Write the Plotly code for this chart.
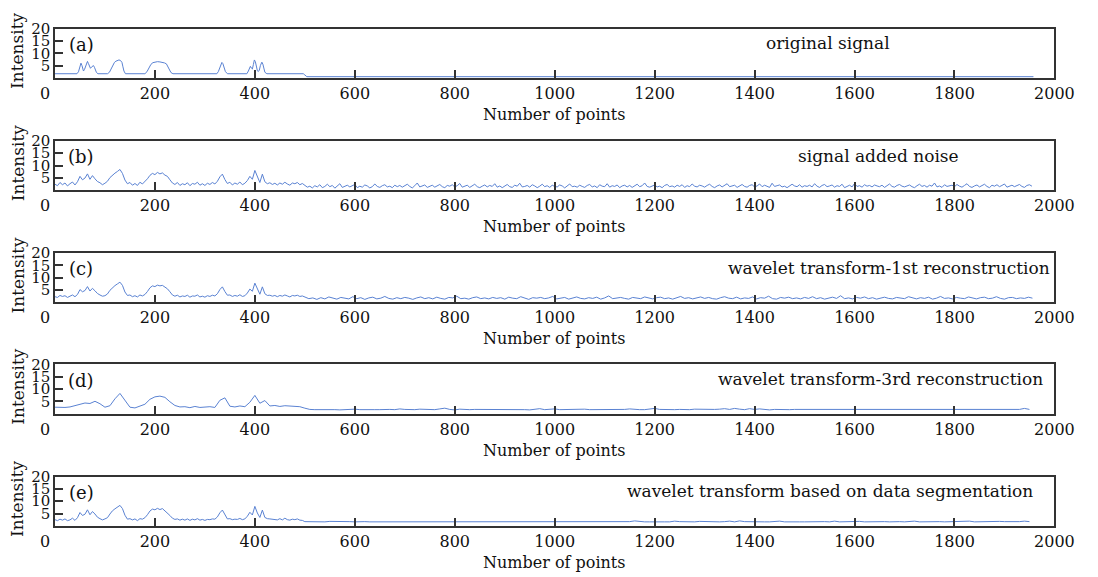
import plotly.graph_objects as go

# ---------------- data ----------------
panel_tags = ["(a)", "(b)", "(c)", "(d)", "(e)"]
panel_titles = ["original signal", "signal added noise",
                "wavelet transform-1st reconstruction",
                "wavelet transform-3rd reconstruction",
                "wavelet transform based on data segmentation"]
x_tick_vals = [0, 200, 400, 600, 800, 1000, 1200, 1400, 1600, 1800, 2000]
x_tick_text = ["0", "200", "400", "600", "800", "1000", "1200", "1400", "1600", "1800", "2000"]
y_tick_vals = [5, 10, 15, 20]
y_tick_text = ["5", "10", "15", "20"]

# (a) original signal: vertices of the clean signal
orig_x = [0, 44, 47, 49, 51, 52, 54, 56, 57, 59, 61, 63, 65, 67, 69, 71, 73, 75, 77, 79, 81, 83, 86,
          105, 109, 113, 116, 119, 122, 125, 128, 131, 134, 136, 138, 141,
          180, 184, 188, 192, 196, 200, 205, 210, 215, 219, 223, 226, 229, 232, 236,
          324, 327, 330, 332, 334, 336, 338, 341, 345,
          384, 387, 389, 391, 393, 395, 397, 399, 401, 403, 405, 407, 409, 411, 413, 414, 416, 418, 420, 424,
          497, 500, 504, 1958]
orig_y = [1.7, 1.7, 2.5, 4.2, 5.7, 6.0, 5.0, 3.2, 2.8, 3.4, 4.8, 6.3, 6.7, 5.8, 4.3, 3.9, 4.4, 4.9, 5.0, 4.3, 3.0, 2.2, 1.7,
          1.7, 2.3, 3.8, 5.3, 6.3, 6.8, 7.0, 7.3, 7.1, 6.3, 4.5, 2.8, 1.7,
          1.7, 2.5, 4.0, 5.5, 6.2, 6.5, 6.6, 6.5, 6.4, 6.1, 5.7, 4.6, 3.2, 2.2, 1.7,
          1.7, 2.6, 4.6, 5.9, 6.3, 5.8, 4.5, 2.6, 1.7,
          1.7, 2.8, 4.2, 4.7, 4.0, 3.6, 5.4, 7.3, 6.6, 4.4, 2.9, 2.6, 3.2, 5.0, 6.3, 6.4, 5.6, 3.6, 2.3, 1.7,
          1.7, 1.2, 0.5, 0.5]

# (b) signal with added noise, sampled every 5 points
noisy_head = [2.4, 1.8, 3.1, 2.2, 2.9, 1.7, 2.6, 3.3, 2.1, 3.4,
              5.6, 4.2, 4.9, 6.6, 4.4, 5.9, 4.6, 3.5, 3.0, 2.2,
              2.8, 3.6, 5.1, 6.2, 6.9, 7.6, 8.4, 6.8, 4.1, 2.6,
              3.1, 2.0, 2.7, 1.9, 3.2, 2.5, 3.4, 4.6, 6.0, 6.8,
              6.3, 7.2, 6.6, 7.0, 6.1, 5.6, 4.2, 2.9, 2.3, 3.1,
              1.9, 2.6, 2.2, 3.0, 1.8, 2.7, 2.4, 3.2, 2.0, 2.6,
              1.9, 2.8, 2.3, 3.1, 2.5, 3.6, 5.4, 6.5, 4.3, 2.7,
              3.2, 2.1, 2.9, 2.4, 3.3, 2.2, 2.8, 3.9, 5.6, 4.4,
              8.0, 5.2, 3.1, 6.5, 3.4, 2.6, 3.0, 2.3, 2.8, 2.1,
              2.9, 2.4, 3.2, 2.5, 2.0, 2.9, 2.6, 3.1, 2.2, 2.7]
noisy_tail = [2.0, 1.2, 1.6, 0.9, 1.8, 1.3, 2.2, 1.0, 1.5, 2.4,
              1.4, 1.9, 0.8, 1.7, 2.6, 1.1, 1.5, 2.0, 1.3, 1.8,
              2.3, 1.0, 1.6, 1.2, 2.1, 1.7, 0.9, 1.4, 2.5, 1.5,
              1.1, 1.8, 2.2, 1.3, 1.6, 1.0, 2.0, 1.4, 1.9, 1.2,
              1.7, 2.4, 1.5, 0.9, 1.8, 2.9, 1.3, 1.6, 2.1, 1.1,
              1.5, 2.0, 1.2, 1.7, 2.3, 1.4, 1.0, 1.9, 1.6, 2.2,
              1.3, 1.8, 2.7, 1.2, 1.5, 2.0, 1.1, 1.7, 2.4, 1.4,
              1.0, 1.6, 2.1, 1.3, 1.9, 1.5, 2.6, 1.2, 1.7, 1.0,
              1.8, 2.3, 1.4, 1.1, 2.0, 1.6, 2.8, 1.3, 1.5, 1.9,
              1.2, 2.2, 1.7, 1.0, 1.6, 2.4, 1.4, 1.8, 1.1, 2.0,
              1.5, 1.3, 2.1, 1.7, 0.9, 1.8, 2.5, 1.4, 1.6, 1.2,
              2.0, 1.5, 1.1, 1.9, 2.3, 1.3, 1.7, 1.0, 2.2, 1.6,
              1.4, 2.6, 1.2, 1.8, 1.5, 2.1, 1.0, 1.7, 2.0, 1.3,
              1.9, 1.1, 1.6, 2.4, 1.4, 1.8, 2.9, 1.5, 1.2, 1.7,
              2.1, 1.3, 1.6, 1.0, 1.9, 2.3, 1.4, 1.7, 1.2, 2.0,
              1.5, 2.2, 1.1, 1.8, 1.4, 2.5, 1.6, 1.3, 2.0, 1.7,
              1.2, 1.9, 2.4, 1.5, 1.0, 1.7, 2.1, 1.3, 1.8, 2.6,
              1.4, 1.6, 2.0, 1.1, 1.8, 2.3, 1.5, 1.2, 1.9, 2.2,
              1.3, 1.7, 2.5, 1.4, 2.0, 1.6, 1.1, 2.8, 1.5, 1.8,
              2.1, 1.3, 1.6, 1.0, 1.9, 2.4, 1.7, 1.4, 2.2, 1.2,
              1.8, 1.5, 2.0, 1.3, 2.6, 1.6, 1.1, 1.9, 2.3, 1.4,
              1.7, 2.1, 1.2, 1.8, 1.5, 2.4, 1.0, 1.6, 2.0, 1.3,
              2.7, 1.5, 1.8, 1.2, 2.2, 1.6, 1.9, 1.3, 2.1, 1.7,
              1.4, 2.0, 1.1, 1.8, 2.5, 1.5, 1.2, 1.9, 2.3, 1.6,
              1.3, 1.7, 2.1, 1.4, 1.0, 1.8, 2.4, 1.5, 1.9, 1.2,
              2.0, 1.6, 2.9, 1.3, 1.7, 1.1, 2.2, 1.5, 1.8, 2.0,
              1.4, 2.3, 1.6, 1.2, 1.9, 2.6, 1.5, 1.1, 1.7, 2.1,
              1.3, 1.8, 2.4, 1.5, 1.0, 2.0, 1.6, 2.2, 1.4, 1.9,
              2.5, 1.2, 1.7, 2.0, 1.4, 1.8, 2.3, 1.5, 1.1, 1.9,
              2.2, 1.6]

# (c) 1st reconstruction: head every 5 points, tail every 8 points
rec1_head = [2.3, 2.0, 2.8, 2.4, 2.7, 2.0, 2.5, 3.0, 2.3, 3.2,
             5.2, 4.3, 4.8, 6.4, 4.6, 5.7, 4.7, 3.6, 3.0, 2.5,
             2.7, 3.4, 4.9, 6.0, 6.8, 7.5, 8.2, 6.9, 4.2, 2.8,
             3.0, 2.3, 2.7, 2.2, 3.0, 2.6, 3.2, 4.4, 5.9, 6.7,
             6.4, 7.0, 6.7, 6.9, 6.2, 5.5, 4.3, 3.0, 2.5, 2.9,
             2.2, 2.6, 2.4, 2.9, 2.1, 2.6, 2.5, 3.0, 2.2, 2.5,
             2.1, 2.7, 2.4, 2.9, 2.6, 3.5, 5.2, 6.3, 4.4, 2.9,
             3.0, 2.4, 2.8, 2.5, 3.1, 2.4, 2.7, 3.8, 5.4, 4.5,
             7.8, 5.3, 3.3, 6.3, 3.5, 2.8, 2.9, 2.5, 2.8, 2.3,
             2.8, 2.5, 3.0, 2.6, 2.2, 2.8, 2.6, 2.9, 2.4, 2.6]
rec1_tail = [2.1, 1.5, 1.8, 1.2, 1.9, 1.4, 2.2, 1.6, 1.3, 2.0,
             1.7, 1.4, 2.3, 1.5, 1.9, 1.2, 1.8, 2.1, 1.4, 1.7,
             2.4, 1.6, 1.3, 1.9, 1.5, 2.0, 1.7, 1.2, 1.8, 2.2,
             1.5, 1.9, 1.4, 2.1, 1.6, 1.3, 2.0, 1.8, 2.5, 1.5,
             1.7, 1.3, 1.9, 2.2, 1.5, 1.8, 1.4, 2.0, 1.6, 1.9,
             1.3, 2.1, 1.7, 1.5, 2.3, 1.6, 1.2, 1.9, 1.7, 2.0,
             1.5, 1.8, 2.4, 1.4, 1.7, 2.0, 1.3, 1.8, 2.2, 1.6,
             1.4, 1.9, 1.6, 2.1, 1.3, 1.8, 2.6, 1.5, 1.7, 2.0,
             1.6, 1.3, 2.0, 1.8, 1.5, 2.2, 1.7, 1.4, 1.9, 2.1,
             1.5, 1.8, 1.3, 2.0, 2.4, 1.6, 1.9, 1.4, 1.7, 2.2,
             1.6, 2.0, 1.5, 1.3, 1.9, 2.3, 1.7, 1.5, 2.1, 1.4,
             1.8, 1.6, 2.2, 1.4, 1.9, 1.7, 2.5, 1.5, 1.3, 2.0,
             1.7, 2.1, 1.5, 1.8, 1.4, 2.0, 1.6, 2.3, 1.5, 1.9,
             1.3, 1.8, 2.1, 1.6, 2.7, 1.5, 1.8, 1.4, 2.0, 1.7,
             2.2, 1.5, 1.9, 1.3, 1.8, 2.1, 1.6, 1.4, 2.0, 1.7,
             1.5, 2.3, 1.8, 1.4, 1.9, 1.6, 2.1, 1.3, 1.7, 2.4,
             1.6, 1.8, 1.4, 2.0, 1.7, 1.5, 2.2, 1.8, 1.4, 1.9,
             2.1, 1.5, 1.7, 2.3, 1.6, 1.3, 1.9, 2.0, 1.5, 1.8,
             1.6, 2.1, 1.7]

# (d) 3rd reconstruction: every 10 points
rec3_head = [2.6, 2.4, 2.5, 2.7, 3.2, 3.9, 4.3, 4.1, 5.0, 4.0,
             2.6, 3.2, 6.0, 8.2, 5.5, 2.6, 2.3, 3.0, 3.8, 5.8,
             6.8, 7.1, 6.6, 4.8, 3.3, 2.7, 2.8, 2.4, 2.9, 2.5,
             2.6, 2.8, 2.5, 5.4, 6.4, 3.0, 2.7, 3.1, 2.8, 4.6,
             7.4, 4.2, 5.3, 3.1, 3.3, 2.9, 3.2, 3.0, 3.1, 2.8]
rec3_tail = [2.2, 1.7, 1.6, 1.6, 1.7, 1.9, 1.6, 1.5, 1.7, 1.6,
             1.8, 1.6, 1.5, 1.7, 1.6, 1.6, 1.8, 1.7, 1.6, 1.9,
             1.7, 1.6, 1.6, 1.8, 1.7, 1.6, 1.6, 1.9, 2.2, 1.7,
             1.5, 1.8, 1.6, 1.6, 1.7, 1.7, 1.6, 1.8, 1.9, 1.6,
             1.6, 1.7, 1.6, 1.8, 1.6, 1.5, 1.7, 2.0, 1.6, 1.7,
             1.9, 1.6, 1.7, 1.6, 1.6, 1.7, 1.8, 1.6, 1.6, 1.7,
             1.6, 1.5, 1.6, 1.6, 1.7, 1.9, 1.7, 1.6, 1.6, 1.7,
             2.1, 1.7, 1.6, 1.5, 1.6, 1.7, 1.6, 1.6, 1.8, 1.7,
             1.6, 1.6, 1.7, 1.8, 2.0, 1.7, 2.1, 1.8, 1.6, 2.0,
             1.7, 1.9, 1.6, 1.5, 1.7, 1.6, 1.8, 1.6, 1.7, 1.7,
             1.6, 1.8, 1.6, 1.7, 1.6, 1.8, 1.7, 1.6, 1.7, 1.6,
             1.8, 1.7, 1.6, 1.6, 1.7, 1.6, 1.8, 1.7, 1.6, 1.7,
             1.6, 1.7, 1.6, 1.8, 1.6, 1.6, 1.9, 1.7, 1.6, 1.7,
             1.8, 1.6, 1.7, 1.6, 1.8, 1.9, 1.7, 1.6, 1.7, 1.8,
             1.7, 1.6, 1.9, 1.7, 2.1, 1.7]

# (e) segmentation-based: head every 5 points, tail every 10 points
seg_head = [2.5, 2.1, 2.7, 2.3, 2.8, 2.1, 2.4, 3.1, 2.2, 3.3,
            5.4, 4.2, 4.7, 6.5, 4.5, 5.8, 4.8, 3.5, 2.9, 2.4,
            2.8, 3.3, 4.8, 6.1, 6.9, 7.6, 8.3, 7.0, 4.3, 2.7,
            2.9, 2.4, 2.8, 2.1, 2.9, 2.7, 3.3, 4.5, 6.0, 6.8,
            6.5, 7.1, 6.6, 7.0, 6.1, 5.4, 4.2, 3.1, 2.6, 2.8,
            2.3, 2.7, 2.3, 2.8, 2.2, 2.7, 2.4, 2.9, 2.3, 2.6,
            2.2, 2.6, 2.5, 2.8, 2.7, 3.6, 5.3, 6.4, 4.3, 2.8,
            2.9, 2.5, 2.7, 2.6, 3.0, 2.5, 2.8, 3.9, 5.5, 4.4,
            7.9, 5.2, 3.4, 6.4, 3.4, 2.9, 2.8, 2.6, 2.7, 2.4,
            2.9, 2.4, 3.1, 2.5, 2.3, 2.7, 2.5, 2.8, 2.3, 2.2]
seg_tail = [1.7, 1.6, 1.7, 1.6, 1.6, 1.8, 1.7, 1.6, 1.6, 1.7,
            1.6, 1.8, 1.7, 1.6, 1.6, 1.9, 1.7, 1.6, 1.7, 1.6,
            1.7, 1.6, 1.8, 1.7, 1.6, 1.6, 1.7, 1.8, 1.6, 1.9,
            1.7, 1.6, 1.6, 1.8, 1.7, 1.6, 1.7, 1.6, 1.8, 1.7,
            1.6, 1.9, 1.7, 1.6, 1.6, 1.7, 1.8, 1.6, 1.7, 1.6,
            1.8, 1.6, 1.7, 1.9, 1.6, 1.6, 1.7, 1.6, 1.8, 1.7,
            1.6, 1.7, 1.6, 1.8, 1.6, 1.7, 2.0, 1.7, 1.6, 1.6,
            1.7, 1.8, 1.6, 1.6, 1.9, 1.7, 1.6, 1.7, 1.6, 1.8,
            1.7, 1.6, 1.8, 1.6, 1.7, 1.9, 1.6, 2.0, 1.7, 1.6,
            1.8, 1.7, 1.6, 1.6, 1.7, 1.9, 1.6, 1.7, 1.8, 1.6,
            1.6, 1.7, 1.8, 1.6, 1.7, 1.6, 1.9, 1.6, 1.7, 1.6,
            1.7, 1.8, 1.6, 1.7, 1.6, 1.9, 1.7, 1.6, 1.8, 1.7,
            1.6, 1.7, 1.9, 1.6, 1.7, 1.6, 1.8, 1.7, 1.6, 1.7,
            1.8, 1.6, 1.7, 1.9, 1.6, 1.7, 1.8, 1.6, 1.7, 1.8,
            1.7, 1.6, 1.8, 1.7, 1.9, 1.7]

# sample indices for each sampled segment
def idx(start, step, n):
    return [start + step * k for k in range(n)]

series = [
    (orig_x, orig_y),
    (idx(0, 5, len(noisy_head)) + idx(500, 5, len(noisy_tail)), noisy_head + noisy_tail),
    (idx(0, 5, len(rec1_head)) + idx(500, 8, len(rec1_tail)), rec1_head + rec1_tail),
    (idx(0, 10, len(rec3_head)) + idx(500, 10, len(rec3_tail)), rec3_head + rec3_tail),
    (idx(0, 5, len(seg_head)) + idx(500, 10, len(seg_tail)), seg_head + seg_tail),
]

# ---------------- layout ----------------
W, H = 1098, 577
left_px, right_px = 56, 1074
panel_tops = [20, 134, 248, 361, 475]
panel_h = 50
title_cx = [843, 895, 905, 897, 845]
FONT = "DejaVu Serif"
INK = "#111111"
FRAME = "#333333"
LINE = "#5a82d2"

fig = go.Figure()
layout = dict(width=W, height=H, margin=dict(l=0, r=0, t=0, b=0),
              paper_bgcolor="white", plot_bgcolor="white", showlegend=False,
              font=dict(family=FONT, size=16, color=INK))
annotations = []
# the first x label ("0") is drawn offset to the left of its tick, as in the source figure
shown_x_text = [""] + x_tick_text[1:]
for i, (xs, ys) in enumerate(series):
    n = "" if i == 0 else str(i + 1)
    top = panel_tops[i]
    dom_y = [1 - (top + panel_h) / H, 1 - top / H]
    fig.add_trace(go.Scatter(x=xs, y=ys, mode="lines",
                             line=dict(color=LINE, width=1),
                             xaxis="x" + n, yaxis="y" + n, hoverinfo="skip"))
    layout["xaxis" + n] = dict(domain=[left_px / W, right_px / W], anchor="y" + n,
                               range=[0, 2000], tickmode="array", tickvals=x_tick_vals,
                               ticktext=shown_x_text, ticks="inside", ticklen=8, tickwidth=1.5,
                               tickcolor=FRAME, showline=True, linecolor=FRAME, linewidth=1.5,
                               mirror=True, showgrid=False, zeroline=False,
                               tickfont=dict(family=FONT, size=16, color=INK))
    layout["yaxis" + n] = dict(domain=dom_y, anchor="x" + n, range=[0, 20],
                               tickmode="array", tickvals=y_tick_vals, ticktext=y_tick_text,
                               ticks="inside", ticklen=8, tickwidth=1.5, tickcolor=FRAME,
                               showline=True, linecolor=FRAME, linewidth=1.5, mirror=True,
                               showgrid=False, zeroline=False,
                               tickfont=dict(family=FONT, size=15, color=INK))
    annotations.append(dict(xref="x" + n, yref="paper", x=x_tick_vals[0], xshift=-10,
                            y=1 - (top + panel_h) / H, yshift=-4, yanchor="top", xanchor="center",
                            text=x_tick_text[0], showarrow=False,
                            font=dict(family=FONT, size=16, color=INK)))
    annotations.append(dict(xref="paper", yref="paper", x=83 / W, y=1 - (top + 16) / H,
                            text=panel_tags[i], showarrow=False, xanchor="center", yanchor="middle",
                            font=dict(family=FONT, size=18, color=INK)))
    annotations.append(dict(xref="paper", yref="paper", x=title_cx[i] / W, y=1 - (top + 15) / H,
                            text=panel_titles[i], showarrow=False, xanchor="center", yanchor="middle",
                            font=dict(family=FONT, size=17, color=INK)))
    annotations.append(dict(xref="paper", yref="paper", x=565 / W, y=1 - (top + 87) / H,
                            text="Number of points", showarrow=False, xanchor="center", yanchor="middle",
                            font=dict(family=FONT, size=16, color=INK)))
    annotations.append(dict(xref="paper", yref="paper", x=18 / W, y=1 - (top + 23) / H,
                            text="Intensity", showarrow=False, xanchor="center", yanchor="middle",
                            textangle=-90, font=dict(family=FONT, size=17, color=INK)))
layout["annotations"] = annotations
fig.update_layout(**layout)
fig.write_html("out.html")
